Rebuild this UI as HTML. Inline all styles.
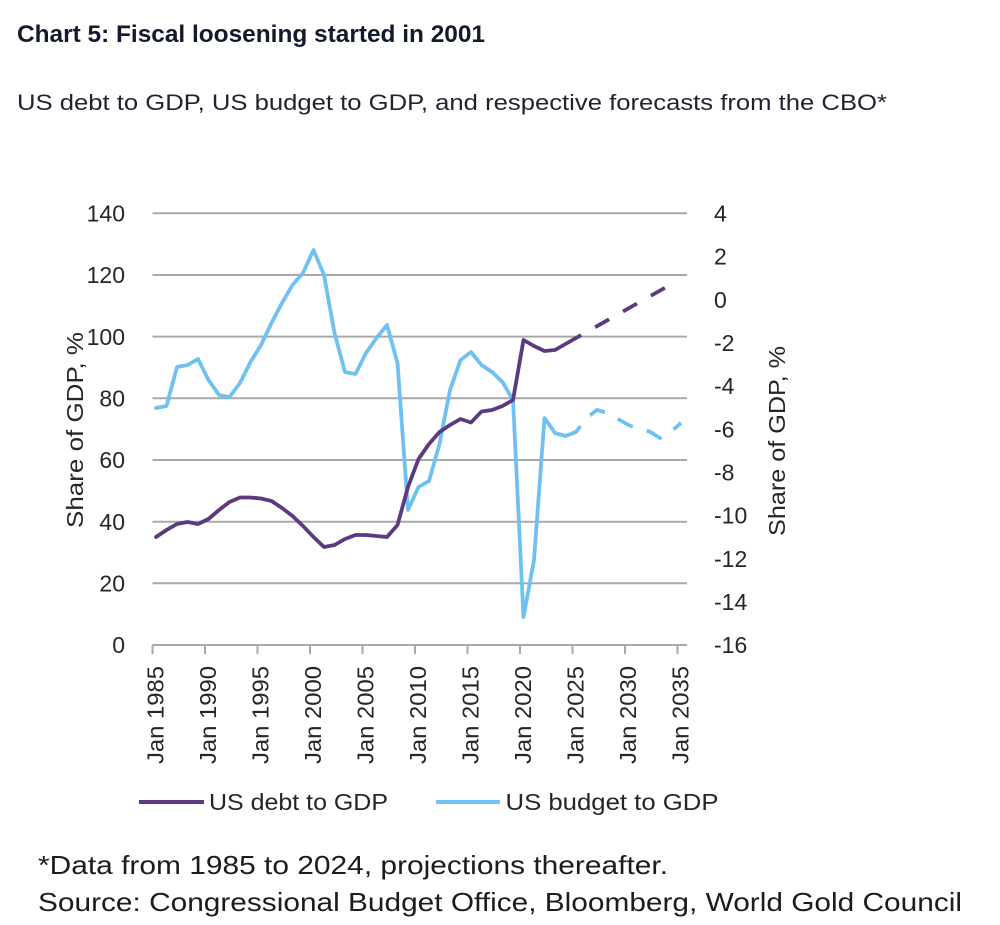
<!DOCTYPE html>
<html>
<head>
<meta charset="utf-8">
<style>
  html, body { margin:0; padding:0; background:#ffffff; }
  body { width:1000px; height:925px; overflow:hidden; }
  svg { display:block; }
  text { font-family: "Liberation Sans", "DejaVu Sans", sans-serif; }
</style>
</head>
<body>
<svg width="1000" height="925" viewBox="0 0 1000 925" xmlns="http://www.w3.org/2000/svg">
  <rect x="0" y="0" width="1000" height="925" fill="#ffffff"/>

  <!-- Title -->
  <text x="17" y="42" font-size="24" font-weight="bold" fill="#141a2e" textLength="468" lengthAdjust="spacingAndGlyphs">Chart 5: Fiscal loosening started in 2001</text>
  <!-- Subtitle -->
  <text x="17" y="110" font-size="22" fill="#1f2330" textLength="870" lengthAdjust="spacingAndGlyphs">US debt to GDP, US budget to GDP, and respective forecasts from the CBO*</text>

  <!-- Gridlines -->
  <g stroke="#a9a9a9" stroke-width="2">
    <line x1="152.5" y1="213.3" x2="687" y2="213.3"/>
    <line x1="152.5" y1="275" x2="687" y2="275"/>
    <line x1="152.5" y1="336.6" x2="687" y2="336.6"/>
    <line x1="152.5" y1="398.3" x2="687" y2="398.3"/>
    <line x1="152.5" y1="460" x2="687" y2="460"/>
    <line x1="152.5" y1="521.7" x2="687" y2="521.7"/>
    <line x1="152.5" y1="583.3" x2="687" y2="583.3"/>
  </g>
  <!-- X axis -->
  <g stroke="#a9a9a9" stroke-width="2">
    <line x1="152.5" y1="645" x2="687" y2="645"/>
    <line x1="152.5" y1="645" x2="152.5" y2="654"/>
    <line x1="205" y1="645" x2="205" y2="654"/>
    <line x1="257.5" y1="645" x2="257.5" y2="654"/>
    <line x1="310" y1="645" x2="310" y2="654"/>
    <line x1="362.5" y1="645" x2="362.5" y2="654"/>
    <line x1="415" y1="645" x2="415" y2="654"/>
    <line x1="467.5" y1="645" x2="467.5" y2="654"/>
    <line x1="520" y1="645" x2="520" y2="654"/>
    <line x1="572.5" y1="645" x2="572.5" y2="654"/>
    <line x1="625" y1="645" x2="625" y2="654"/>
    <line x1="677.5" y1="645" x2="677.5" y2="654"/>
  </g>

  <!-- Left axis labels -->
  <g font-size="23" fill="#262626" text-anchor="end">
    <text x="125" y="221.5">140</text>
    <text x="125" y="283.2">120</text>
    <text x="125" y="344.8">100</text>
    <text x="125" y="406.5">80</text>
    <text x="125" y="468.2">60</text>
    <text x="125" y="529.9">40</text>
    <text x="125" y="591.5">20</text>
    <text x="125" y="653.2">0</text>
  </g>
  <!-- Right axis labels -->
  <g font-size="23" fill="#262626" text-anchor="start">
    <text x="714" y="221.6">4</text>
    <text x="714" y="264.7">2</text>
    <text x="714" y="307.9">0</text>
    <text x="714" y="351.1">-2</text>
    <text x="714" y="394.2">-4</text>
    <text x="714" y="437.4">-6</text>
    <text x="714" y="480.6">-8</text>
    <text x="714" y="523.7">-10</text>
    <text x="714" y="566.9">-12</text>
    <text x="714" y="610">-14</text>
    <text x="714" y="653.2">-16</text>
  </g>

  <!-- Axis titles -->
  <text transform="translate(83,430) rotate(-90)" font-size="23" fill="#262626" text-anchor="middle" textLength="196" lengthAdjust="spacingAndGlyphs">Share of GDP, %</text>
  <text transform="translate(785,441) rotate(-90)" font-size="23" fill="#262626" text-anchor="middle" textLength="190" lengthAdjust="spacingAndGlyphs">Share of GDP, %</text>

  <!-- X tick labels -->
  <g font-size="23" fill="#262626" text-anchor="end">
    <text transform="translate(163.3,666) rotate(-90)" textLength="98" lengthAdjust="spacingAndGlyphs">Jan 1985</text>
    <text transform="translate(215.8,666) rotate(-90)" textLength="98" lengthAdjust="spacingAndGlyphs">Jan 1990</text>
    <text transform="translate(268.3,666) rotate(-90)" textLength="98" lengthAdjust="spacingAndGlyphs">Jan 1995</text>
    <text transform="translate(320.8,666) rotate(-90)" textLength="98" lengthAdjust="spacingAndGlyphs">Jan 2000</text>
    <text transform="translate(373.3,666) rotate(-90)" textLength="98" lengthAdjust="spacingAndGlyphs">Jan 2005</text>
    <text transform="translate(425.8,666) rotate(-90)" textLength="98" lengthAdjust="spacingAndGlyphs">Jan 2010</text>
    <text transform="translate(478.3,666) rotate(-90)" textLength="98" lengthAdjust="spacingAndGlyphs">Jan 2015</text>
    <text transform="translate(530.8,666) rotate(-90)" textLength="98" lengthAdjust="spacingAndGlyphs">Jan 2020</text>
    <text transform="translate(583.3,666) rotate(-90)" textLength="98" lengthAdjust="spacingAndGlyphs">Jan 2025</text>
    <text transform="translate(635.8,666) rotate(-90)" textLength="98" lengthAdjust="spacingAndGlyphs">Jan 2030</text>
    <text transform="translate(688.3,666) rotate(-90)" textLength="98" lengthAdjust="spacingAndGlyphs">Jan 2035</text>
  </g>

  <!-- US budget to GDP (light blue) -->
  <polyline fill="none" stroke="#70c1f2" stroke-width="3.8" stroke-linejoin="round" stroke-linecap="round"
    points="156,408 166.5,406 177,367 187.5,365 198,359 208.5,380 219,395 229.5,397 240,383 250.5,362 261,345 271.5,323 282,303 292.5,285 303,273 313.5,250 324,275 334.5,333 345,372 355.5,374 366,353 376.5,338 387,325 397.5,363 408,510 418.5,487 429,481 439.5,444 450,390 460.5,360 471,352 481.5,365 492,372 502.5,382 513,400 523.5,617 534,560 544.5,418 555,433 565.5,436 576,432"/>
  <polyline fill="none" stroke="#70c1f2" stroke-width="3.8" stroke-linejoin="round" stroke-linecap="butt"
    stroke-dasharray="17 14.5" stroke-dashoffset="9.6"
    points="576,432 586.5,418 597,410 607.5,413 618,419 628.5,425 639,429 649.5,431.5 660,438 670.5,432 681,423"/>

  <!-- US debt to GDP (purple) -->
  <polyline fill="none" stroke="#5d3a80" stroke-width="3.8" stroke-linejoin="round" stroke-linecap="round"
    points="156,537 166.5,530 177,524 187.5,522 198,524 208.5,519 219,510 229.5,502 240,497.5 250.5,497.5 261,498.5 271.5,501 282,508 292.5,516 303,526 313.5,537 324,547 334.5,545 345,539 355.5,535 366,535 376.5,536 387,537 397.5,525 408,487 418.5,459 429,444 439.5,432 450,425 460.5,419 471,422.5 481.5,411.5 492,410 502.5,406 513,400 523.5,340 534,346 544.5,351 555,350 565.5,344 576,338"/>
  <polyline fill="none" stroke="#5d3a80" stroke-width="3.8" stroke-linecap="butt"
    stroke-dasharray="16 16" stroke-dashoffset="10"
    points="576,338 669,285.5"/>

  <!-- Legend -->
  <line x1="139" y1="802" x2="204" y2="802" stroke="#5d3a80" stroke-width="4"/>
  <text x="209" y="810" font-size="23" fill="#262626" textLength="179" lengthAdjust="spacingAndGlyphs">US debt to GDP</text>
  <line x1="436" y1="802" x2="500" y2="802" stroke="#70c1f2" stroke-width="4"/>
  <text x="505.5" y="810" font-size="23" fill="#262626" textLength="213" lengthAdjust="spacingAndGlyphs">US budget to GDP</text>

  <!-- Footer -->
  <text x="38" y="874" font-size="26" fill="#1c1c1c" textLength="630" lengthAdjust="spacingAndGlyphs">*Data from 1985 to 2024, projections thereafter.</text>
  <text x="38" y="911" font-size="26" fill="#1c1c1c" textLength="924" lengthAdjust="spacingAndGlyphs">Source: Congressional Budget Office, Bloomberg, World Gold Council</text>
</svg>
</body>
</html>
